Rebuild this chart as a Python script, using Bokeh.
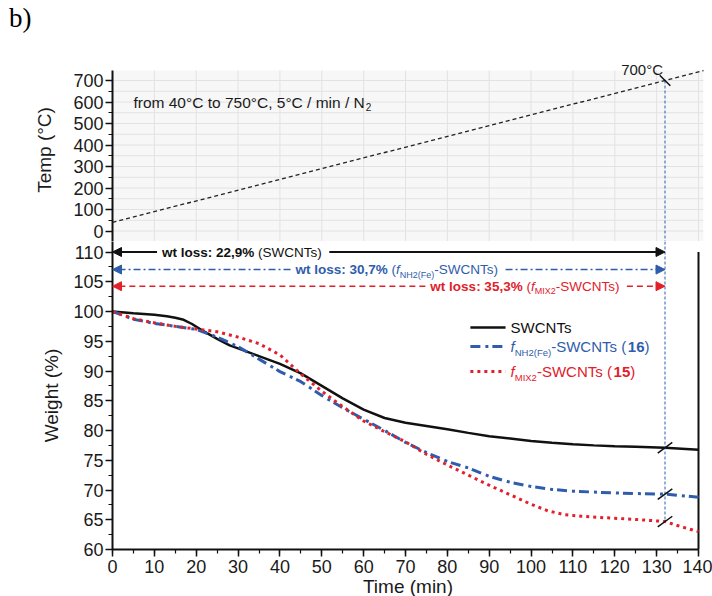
from bokeh.plotting import figure
from bokeh.layouts import column
from bokeh.models import (Div, Label, Arrow, NormalHead, SingleIntervalTicker,
                          Range1d)
from bokeh.embed import file_html
from bokeh.resources import INLINE

# ---------------------------------------------------------------- data
# TGA weight curves: time (min) -> weight (%)
t_swcnt = [0, 5, 10, 13, 15, 17, 19, 21, 23, 25, 28, 30, 35, 40, 45, 50, 55,
           60, 65, 70, 75, 80, 85, 90, 95, 100, 105, 110, 115, 120, 125, 132, 140]
w_swcnt = [100, 99.7, 99.45, 99.2, 98.95, 98.6, 97.9, 97.0, 96.2, 95.4, 94.3,
           93.8, 92.5, 91.2, 89.6, 87.5, 85.4, 83.5, 82.1, 81.3, 80.75, 80.2,
           79.6, 79.05, 78.65, 78.25, 77.95, 77.7, 77.5, 77.35, 77.25, 77.1,
           76.75]

t_nh2 = [0, 5, 10, 15, 20, 25, 30, 35, 40, 45, 50, 55, 60, 65, 70, 75, 80,
         85, 90, 95, 100, 105, 110, 115, 120, 125, 132, 140]
w_nh2 = [100, 98.7, 98.0, 97.5, 97.0, 95.7, 94.1, 92.0, 89.9, 88.2, 85.9,
         83.8, 81.9, 80.0, 78.0, 76.3, 74.8, 73.7, 72.3, 71.3, 70.6, 70.1,
         69.8, 69.65, 69.5, 69.4, 69.3, 68.8]

t_mix = [0, 5, 10, 15, 20, 25, 30, 35, 40, 45, 50, 55, 60, 65, 70, 75, 80,
         85, 90, 95, 100, 104, 108, 112, 116, 120, 125, 132, 136, 140]
w_mix = [100, 98.8, 98.1, 97.5, 97.05, 96.6, 95.7, 94.6, 92.7, 89.5, 86.6,
         84.0, 81.6, 79.8, 78.1, 76.0, 74.2, 72.5, 70.8, 69.2, 67.6, 66.5,
         65.85, 65.6, 65.4, 65.25, 65.05, 64.7, 63.8, 63.0]

# furnace program (min -> °C)
t_ramp = [0, 142]
temp_ramp = [40, 750]

# weight losses read at the end point (700 °C)
t_end = 132
temp_end = 700
loss_swcnt, loss_nh2, loss_mix = 22.9, 30.7, 35.3

# ---------------------------------------------------------------- style
FONT = "Liberation Sans"
BLACK = "#111111"
TXT = "#1a1a1a"
BLUE = "#2f5dab"
RED = "#e2202b"
GRID = "#e2e2e2"
PANEL = "#f7f7f7"

FRAME_W = 591
K = 586 / 140.0                  # px per minute
X_HI = FRAME_W / K               # right edge of both frames (min)

PX_T = 150.5 / 700               # px per °C in the temperature panel
PX_W = 297.5 / 50                # px per % in the weight panel

# Arial / Liberation Sans advance widths (1/1000 em)
REG = {' ': 278, '(': 333, ')': 333, '-': 333, ',': 278, '.': 278, ':': 278,
       '%': 889, '/': 278, '°': 400, 'A': 667, 'B': 667, 'C': 722, 'E': 667,
       'F': 611, 'H': 722, 'I': 278, 'M': 833, 'N': 722, 'S': 667, 'T': 611,
       'W': 944, 'X': 667, 'a': 556, 'e': 556, 'f': 278, 'i': 222, 'l': 222,
       'm': 833, 'n': 556, 'o': 556, 'r': 333, 's': 500, 't': 278, 'w': 722}
BOLD = {' ': 278, '(': 333, ')': 333, ':': 333, ',': 278, '%': 889, 'l': 278,
        'o': 611, 's': 556, 't': 333, 'w': 778}


def text_w(s, size, style):
    table = BOLD if style == "bold" else REG
    return sum(table.get(ch, 556) for ch in s) * size / 1000.0


def rich(fig, x, y, runs, color, align="left"):
    """Lay out runs of (text, size, style, dy) one after the other."""
    total = sum(text_w(t, s, st) for t, s, st, _ in runs)
    pos = -total / 2.0 if align == "center" else 0.0
    for txt, size, style, dy in runs:
        lead = len(txt) - len(txt.lstrip())
        fig.add_layout(Label(
            x=x, y=y, x_offset=pos + text_w(" " * lead, size, style),
            y_offset=dy, text=txt.strip(), text_font=FONT,
            text_font_size=f"{size}px", text_font_style=style,
            text_color=color, text_align="left", text_baseline="middle"))
        pos += text_w(txt, size, style)
    return total


def style_axis(ax):
    ax.axis_line_width = 2
    ax.axis_line_color = BLACK
    ax.major_tick_line_width = 1.5
    ax.minor_tick_line_width = 1.2
    ax.major_tick_line_color = BLACK
    ax.minor_tick_line_color = BLACK
    ax.major_tick_in, ax.major_tick_out = 0, 7
    ax.minor_tick_in, ax.minor_tick_out = 0, 4
    ax.major_label_text_font = FONT
    ax.major_label_text_font_size = "18px"
    ax.major_label_text_color = TXT
    ax.axis_label_text_font = FONT
    ax.axis_label_text_font_size = "19px"
    ax.axis_label_text_font_style = "normal"
    ax.axis_label_text_color = TXT


def fmt(v):
    return f"{v:.1f}".replace(".", ",")


# ---------------------------------------------------------------- header
header = Div(text='<div style="font-family: \'Liberation Serif\', serif; '
                  'font-size: 27px; line-height: 1; margin: 5px 0 0 9px;">b)</div>',
             width=712, height=50, margin=(0, 0, 0, 0))

# ---------------------------------------------------------------- temperature panel
top_frame_h = 183
top_hi = temp_end + 22 / PX_T            # room above the panel for the 700°C tag
top_lo = top_hi - top_frame_h / PX_T
panel_hi = temp_end + 10 / PX_T          # upper edge of the shaded panel

top = figure(frame_width=FRAME_W, frame_height=top_frame_h,
             x_range=Range1d(0, X_HI), y_range=Range1d(top_lo, top_hi),
             x_axis_location=None, toolbar_location=None, output_backend="svg",
             min_border_left=112, min_border_right=9, min_border_top=8,
             min_border_bottom=0, background_fill_color="white",
             border_fill_color="white", outline_line_color=None)
top.grid.grid_line_color = None
top.yaxis.ticker = SingleIntervalTicker(interval=100, num_minor_ticks=2)
top.yaxis.bounds = (top_lo, panel_hi)
top.yaxis.axis_label = "Temp (°C)"
style_axis(top.yaxis[0])
top.yaxis.major_label_standoff = 2
top.yaxis.axis_label_standoff = 15

# shaded panel with its grid
top.quad(left=[0], right=[X_HI], bottom=[top_lo], top=[panel_hi],
         fill_color=PANEL, line_color=None)
gx = list(range(10, 141, 10))
top.segment(x0=gx, y0=[top_lo] * len(gx), x1=gx, y1=[panel_hi] * len(gx),
            line_color=GRID, line_width=1)
gy = list(range(0, 701, 50))
top.segment(x0=[0] * len(gy), y0=gy, x1=[X_HI] * len(gy), y1=gy,
            line_color=GRID, line_width=1)

top.line(t_ramp, temp_ramp, line_color="#222222", line_width=1.3, line_dash="4 3")
top.segment(x0=[t_end], y0=[temp_end], x1=[t_end], y1=[top_lo],
            line_color=BLUE, line_width=1, line_dash="3 2")
top.scatter([t_end], [temp_end], marker="dash", size=15, angle=-45,
            angle_units="deg", line_color=BLACK, line_width=1.5)
top.add_layout(Label(x=t_end, y=temp_end, x_offset=-2, y_offset=3,
                     text=f"{temp_end}°C", text_font=FONT, text_font_size="15px",
                     text_color=TXT, text_align="right", text_baseline="bottom"))
w_prog = rich(top, 5, 600, [("from 40°C to 750°C, 5°C / min / N", 15.5, "normal", 0)],
              TXT)
top.add_layout(Label(x=5, y=600, x_offset=w_prog + 1, y_offset=-5, text="2",
                     text_font=FONT, text_font_size="10px", text_color=TXT,
                     text_align="left", text_baseline="middle"))

# ---------------------------------------------------------------- weight panel
bot_frame_h = 308
bot_hi = 60 + bot_frame_h / PX_W          # a little headroom above 110 %
bot = figure(frame_width=FRAME_W, frame_height=bot_frame_h,
             x_range=Range1d(0, X_HI), y_range=Range1d(60, bot_hi),
             toolbar_location=None, output_backend="svg",
             min_border_left=112, min_border_right=9, min_border_top=0,
             min_border_bottom=47, background_fill_color="white",
             border_fill_color="white", outline_line_color=None)
bot.grid.grid_line_color = None
bot.xaxis.ticker = SingleIntervalTicker(interval=10, num_minor_ticks=2)
bot.yaxis.ticker = SingleIntervalTicker(interval=5, num_minor_ticks=2)
bot.xaxis.bounds = (0, 140)
bot.xaxis.axis_label = "Time (min)"
bot.yaxis.axis_label = "Weight (%)"
style_axis(bot.xaxis[0])
style_axis(bot.yaxis[0])
bot.xaxis.major_label_standoff = 3
bot.xaxis.axis_label_standoff = 0
bot.yaxis.major_label_standoff = 2
bot.yaxis.axis_label_standoff = 8

# right-hand frame line
bot.segment(x0=[140], y0=[60], x1=[140], y1=[110], line_color=BLACK, line_width=2)

bot.line(t_swcnt, w_swcnt, line_color=BLACK, line_width=2.5)
bot.line(t_nh2, w_nh2, line_color=BLUE, line_width=3, line_dash="10 5 3 4")
bot.line(t_mix, w_mix, line_color=RED, line_width=3, line_dash="3 4")

# end-point marker line and axis breaks
bot.segment(x0=[t_end], y0=[bot_hi], x1=[t_end], y1=[100 - loss_mix],
            line_color=BLUE, line_width=1, line_dash="3 2")
bot.scatter([t_end] * 3, [100 - loss_swcnt, 100 - loss_nh2, 100 - loss_mix],
            marker="dash", size=18, angle=36, angle_units="deg",
            line_color=BLACK, line_width=1.5)

# weight-loss annotations: double arrows with centred captions
rows = [
    (110.0, 31.1, BLACK, None, 2.0,
     [(f"wt loss: {fmt(loss_swcnt)}%", 13.5, "bold", 0),
      (" (SWCNTs)", 13.5, "normal", 0)]),
    (107.05, 68.1, BLUE, "7 3 2 3", 1.5,
     [(f"wt loss: {fmt(loss_nh2)}%", 13.5, "bold", 0),
      (" (", 13.5, "normal", 0), ("f", 13.5, "italic", 0),
      ("NH2(Fe)", 9, "normal", -5), ("-SWCNTs)", 13.5, "normal", 0)]),
    (104.25, 98.7, RED, "6 4", 1.5,
     [(f"wt loss: {fmt(loss_mix)}%", 13.5, "bold", 0),
      (" (", 13.5, "normal", 0), ("f", 13.5, "italic", 0),
      ("MIX2", 9, "normal", -5), ("-SWCNTs)", 13.5, "normal", 0)]),
]
for y, xc, color, dash, lw, runs in rows:
    w = rich(bot, xc, y, runs, color, align="center")
    left = xc - (w / 2 + 5) / K
    right = xc + (w / 2 + 6) / K
    kw = dict(line_color=color, line_width=lw)
    if dash:
        kw["line_dash"] = dash
    for xs, xe in ((left, 0), (right, t_end)):
        bot.add_layout(Arrow(end=NormalHead(size=9, fill_color=color,
                                            line_color=color, line_width=1),
                             x_start=xs, y_start=y, x_end=xe, y_end=y, **kw))

# legend
leg_x0, leg_x1, leg_xt = 85.5, 93.9, 95.1
leg_rows = [
    (97.3, BLACK, None, 2.5, [("SWCNTs", 15, "normal", 0)]),
    (94.1, BLUE, "10 5 3 4", 3,
     [("f", 15, "italic", 0), ("NH2(Fe)", 9.5, "normal", -6),
      ("-SWCNTs (", 15, "normal", 0), ("16", 15, "bold", 0),
      (")", 15, "normal", 0)]),
    (89.9, RED, "3 4", 3,
     [("f", 15, "italic", 0), ("MIX2", 9.5, "normal", -6),
      ("-SWCNTs (", 15, "normal", 0), ("15", 15, "bold", 0),
      (")", 15, "normal", 0)]),
]
for y, color, dash, lw, runs in leg_rows:
    kw = dict(line_color=color, line_width=lw)
    if dash:
        kw["line_dash"] = dash
    bot.line([leg_x0, leg_x1], [y, y], **kw)
    rich(bot, leg_xt, y, runs, color)

layout = column(header, top, bot, spacing=0)
open("out.html", "w").write(file_html(layout, INLINE))
